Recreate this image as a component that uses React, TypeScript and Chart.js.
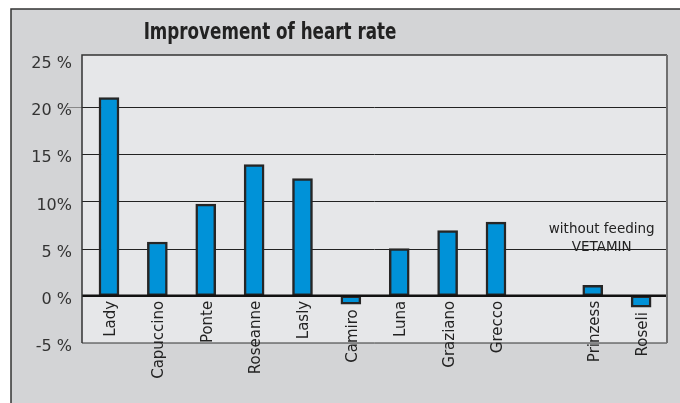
import { useEffect, useRef } from "react";
import { Chart, registerables } from "chart.js";
Chart.register(...registerables);

const categories = ["Lady", "Capuccino", "Ponte", "Roseanne", "Lasly", "Camiro", "Luna", "Graziano", "Grecco", "", "Prinzess", "Roseli"];
const improvement: (number | null)[] = [21, 5.7, 9.7, 13.9, 12.4, -0.9, 5.0, 6.9, 7.8, null, 1.1, -1.2];
const yTickValues = [-5, 0, 5, 10, 15, 20, 25];
const yTickLabels = ["-5 %", "0 %", "5 %", "10%", "15 %", "20 %", "25 %"];
const gridValues = [5, 10, 15, 20];
const titleText = "Improvement of heart rate";
const noteLines = ["without feeding", "VETAMIN"];
const noteValues = [7.0, 5.1];

const FONT = "'DejaVu Sans', sans-serif";
const FRAME_L = 2.8;
const FRAME_R = 1.7;

export default function App() {
  const ref = useRef<HTMLCanvasElement>(null);
  useEffect(() => {
    document.body.style.margin = "0";
    const canvas = ref.current!;
    const deco = {
      id: "deco",
      beforeDraw(chart: any) {
        const { ctx, chartArea: a } = chart;
        ctx.save();
        ctx.fillStyle = "#ffffff";
        ctx.fillRect(0, 0, 680, 403);
        ctx.fillStyle = "#d3d4d6";
        ctx.fillRect(11, 9, 680, 403);
        ctx.strokeStyle = "#333";
        ctx.lineWidth = 1.5;
        ctx.beginPath();
        ctx.moveTo(11, 420);
        ctx.lineTo(11, 9);
        ctx.lineTo(690, 9);
        ctx.stroke();
        const L = a.left - FRAME_L;
        const R = a.right + FRAME_R;
        ctx.fillStyle = "#e6e7e9";
        ctx.fillRect(L, a.top, R - L, a.bottom - a.top);
        // title (horizontally condensed)
        ctx.fillStyle = "#222";
        ctx.font = "bold 23px 'DejaVu Sans Condensed', 'DejaVu Sans', sans-serif";
        ctx.textAlign = "center";
        ctx.textBaseline = "alphabetic";
        ctx.translate(270, 39);
        ctx.scale(0.81, 1);
        ctx.fillText(titleText, 0, 0);
        ctx.restore();
      },
      beforeDatasetsDraw(chart: any) {
        const { ctx, chartArea: a } = chart;
        const ys = chart.scales.y;
        const L = a.left - FRAME_L;
        const R = a.right + FRAME_R;
        ctx.save();
        ctx.strokeStyle = "#222";
        ctx.lineWidth = 1;
        gridValues.forEach((v) => {
          const y = Math.round(ys.getPixelForValue(v)) + 0.5;
          ctx.beginPath();
          ctx.moveTo(L, y);
          ctx.lineTo(R, y);
          ctx.stroke();
        });
        // small gray stub at 20%
        const y20 = Math.round(ys.getPixelForValue(20)) + 0.5;
        ctx.strokeStyle = "#888";
        ctx.beginPath();
        ctx.moveTo(L - 15, y20);
        ctx.lineTo(L, y20);
        ctx.stroke();
        ctx.restore();
      },
      afterDatasetsDraw(chart: any) {
        const { ctx, chartArea: a } = chart;
        const xs = chart.scales.x;
        const ys = chart.scales.y;
        const L = a.left - FRAME_L;
        const R = a.right + FRAME_R;
        ctx.save();
        // zero line
        const zero = ys.getPixelForValue(0);
        ctx.strokeStyle = "#111";
        ctx.lineWidth = 2.5;
        ctx.beginPath();
        ctx.moveTo(L, zero);
        ctx.lineTo(R, zero);
        ctx.stroke();
        // plot frame
        ctx.strokeStyle = "#333";
        ctx.lineWidth = 1.5;
        ctx.beginPath();
        ctx.moveTo(L, a.bottom);
        ctx.lineTo(L, a.top);
        ctx.lineTo(R, a.top);
        ctx.stroke();
        ctx.lineWidth = 1;
        ctx.beginPath();
        ctx.moveTo(L, a.bottom);
        ctx.lineTo(R, a.bottom);
        ctx.stroke();
        ctx.strokeStyle = "#707070";
        ctx.lineWidth = 2;
        ctx.beginPath();
        ctx.moveTo(R, a.top);
        ctx.lineTo(R, a.bottom);
        ctx.stroke();
        // category labels
        ctx.fillStyle = "#222";
        ctx.font = "15px " + FONT;
        ctx.textAlign = "right";
        ctx.textBaseline = "middle";
        categories.forEach((lab, i) => {
          if (!lab) return;
          const v = improvement[i];
          const x = xs.getPixelForValue(i) + 2;
          const base = v !== null && v < 0 ? ys.getPixelForValue(v) : zero;
          ctx.save();
          ctx.translate(x, base + 5);
          ctx.rotate(-Math.PI / 2);
          ctx.fillText(lab, 0, 0);
          ctx.restore();
        });
        // note
        ctx.font = "13.5px " + FONT;
        ctx.textAlign = "center";
        const nx = (xs.getPixelForValue(9) + xs.getPixelForValue(11)) / 2 + 9;
        noteLines.forEach((t, k) => {
          ctx.fillText(t, nx, ys.getPixelForValue(noteValues[k]));
        });
        ctx.restore();
      },
    };
    const chart = new Chart(canvas, {
      type: "bar",
      data: {
        labels: categories,
        datasets: [
          {
            data: improvement,
            backgroundColor: "#0092d8",
            borderColor: "#262626",
            borderWidth: 2.5,
            borderSkipped: false,
            barThickness: 20,
          },
        ],
      },
      options: {
        responsive: false,
        animation: false,
        devicePixelRatio: 1,
        layout: { padding: { left: 11, right: 14.7, top: 55, bottom: 60 } },
        plugins: { legend: { display: false }, tooltip: { enabled: false }, title: { display: false } },
        scales: {
          x: { display: false },
          y: {
            min: -5,
            max: 25.5,
            afterBuildTicks: (s: any) => {
              s.ticks = yTickValues.map((v) => ({ value: v }));
            },
            afterFit: (s: any) => {
              s.width = 73.8;
            },
            border: { display: false },
            grid: { display: false, drawTicks: false },
            ticks: {
              padding: 12.8,
              labelOffset: 4,
              color: "#333",
              font: { family: FONT, size: 16 },
              callback: (v: any) => {
                const i = yTickValues.indexOf(Number(v));
                return i >= 0 ? yTickLabels[i] : "";
              },
            },
          },
        },
      },
      plugins: [deco],
    } as any);
    return () => chart.destroy();
  }, []);
  return (
    <div style={{ position: "absolute", left: 0, top: 0, width: 680, height: 403 }}>
      <canvas ref={ref} width={680} height={403} style={{ display: "block" }} />
    </div>
  );
}
